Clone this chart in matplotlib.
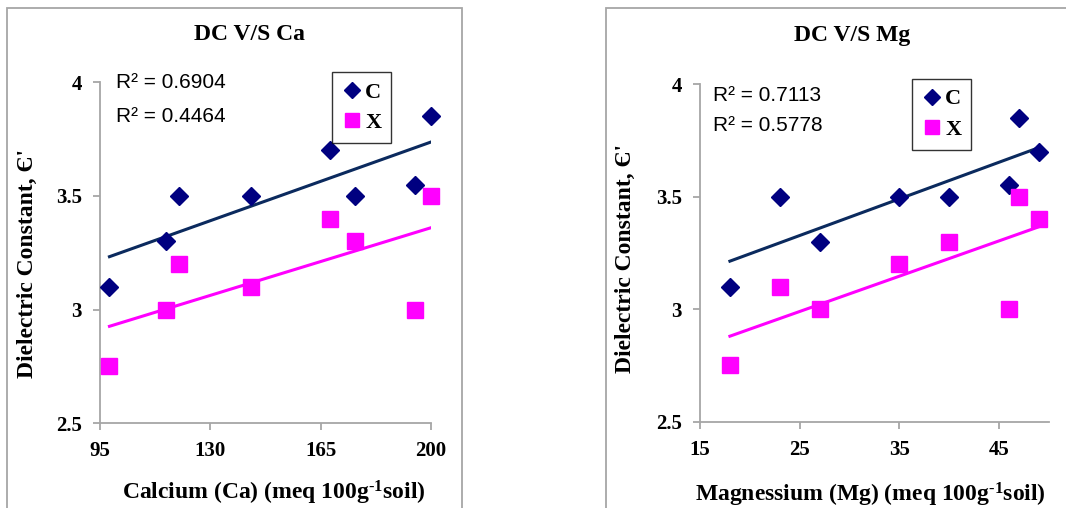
import numpy as np
import matplotlib
matplotlib.use("Agg")
import matplotlib.pyplot as plt
from matplotlib.patches import Rectangle
from matplotlib.lines import Line2D

plt.rcParams["font.family"] = ["Liberation Serif", "DejaVu Serif"]
plt.rcParams["mathtext.fontset"] = "custom"
plt.rcParams["mathtext.rm"] = "Liberation Serif:bold"
plt.rcParams["mathtext.it"] = "Liberation Serif:bold"
plt.rcParams["mathtext.bf"] = "Liberation Serif:bold"

# Calcium panel
ca = [98, 116, 120, 143, 168, 176, 195, 200]
ca_c = [3.1, 3.3, 3.5, 3.5, 3.7, 3.5, 3.55, 3.85]
ca_x = [2.75, 3.0, 3.2, 3.1, 3.4, 3.3, 3.0, 3.5]
ca_r2 = ["R² = 0.6904", "R² = 0.4464"]
ca_ticks = [95, 130, 165, 200]

# Magnesium panel
mg = [18, 23, 27, 35, 40, 46, 47, 49]
mg_c = [3.1, 3.5, 3.3, 3.5, 3.5, 3.55, 3.85, 3.7]
mg_x = [2.75, 3.1, 3.0, 3.2, 3.3, 3.0, 3.5, 3.4]
mg_r2 = ["R² = 0.7113", "R² = 0.5778"]
mg_ticks = [15, 25, 35, 45]

y_ticks = [2.5, 3, 3.5, 4]

NAVY = "#000080"
TREND = "#0B2A5E"
PINK = "#FF00FF"
GRAY = "#A6A6A6"

W, H = 1066, 508
fig = plt.figure(figsize=(W / 100, H / 100), dpi=100)


def fx(x):
    return x / W


def fy(y):
    return 1 - y / H


# chart area frames
fig.add_artist(Rectangle((fx(7), -0.1), fx(462) - fx(7), fy(8) + 0.1,
                         transform=fig.transFigure, fill=False, ec=GRAY, lw=1.3))
fig.add_artist(Rectangle((fx(606), -0.1), 0.6, fy(8) + 0.1,
                         transform=fig.transFigure, fill=False, ec=GRAY, lw=1.3))


def panel(rect, xs, yc, yx, xlim, xticks, r2, r2_pos, leg_pos):
    ax = fig.add_axes(rect)
    for xvals, yvals, col, mk, ms in [(xs, yc, NAVY, "D", 9), (xs, yx, PINK, "s", 11)]:
        ax.plot(xvals, yvals, ls="none", marker=mk, ms=ms, color=col, mec=col, zorder=3, clip_on=False)
    # linear trendlines
    for yvals, col in [(yc, TREND), (yx, PINK)]:
        k, b = np.polyfit(xs, yvals, 1)
        xx = np.array([min(xs), max(xs)])
        ax.plot(xx, k * xx + b, color=col, lw=2.2, zorder=2)
    ax.set_xlim(*xlim)
    ax.set_ylim(2.5, 4)
    ax.set_xticks(xticks)
    ax.set_yticks(y_ticks)
    ax.set_yticklabels(["2.5", "3", "3.5", "4"])
    for s in ["top", "right"]:
        ax.spines[s].set_visible(False)
    for s in ["left", "bottom"]:
        ax.spines[s].set_color(GRAY)
        ax.spines[s].set_linewidth(1.3)
    ax.tick_params(direction="out", length=5, width=1.3, color=GRAY,
                   labelsize=15, pad=8)
    for lab in ax.get_xticklabels() + ax.get_yticklabels():
        lab.set_fontweight("bold")
    for t, yy in zip(r2, r2_pos[1]):
        ax.text(r2_pos[0], yy, t, transform=ax.transAxes, family="Liberation Sans",
                fontsize=15, va="center", ha="left")
    handles = [Line2D([], [], ls="none", marker="D", ms=8, color=NAVY),
               Line2D([], [], ls="none", marker="s", ms=10, color=PINK)]
    leg = ax.legend(handles, ["C", "X"], loc="upper left", bbox_to_anchor=leg_pos,
                    borderaxespad=0, frameon=True, fancybox=False, handlelength=0.9,
                    handletextpad=0.15, borderpad=0.45, labelspacing=0.45,
                    prop={"family": "Liberation Serif", "weight": "bold", "size": 16})
    leg.get_frame().set_edgecolor("black")
    leg.get_frame().set_linewidth(1.0)
    return ax


panel([fx(100), fy(423.3), fx(431) - fx(100), fy(82.3) - fy(423.3)],
      ca, ca_c, ca_x, (95, 200), ca_ticks, ca_r2, (0.048, [0.998, 0.901]), (0.701, 1.03))
panel([fx(700), fy(421.7), fx(1049) - fx(700), fy(84) - fy(421.7)],
      mg, mg_c, mg_x, (15, 50), mg_ticks, mg_r2, (0.037, [0.967, 0.878]), (0.607, 1.015))

tkw = dict(fontsize=17, fontweight="bold", ha="center", va="center")
fig.text(fx(249), fy(35), "DC V/S Ca", **tkw)
fig.text(fx(852), fy(35), "DC V/S Mg", **tkw)
fig.text(fx(27), fy(263), "Dielectric Constant, Є'", rotation=90, **tkw)
fig.text(fx(625), fy(258), "Dielectric Constant, Є'", rotation=90, **tkw)
fig.text(fx(274), fy(493), r"Calcium (Ca) (meq 100g$^{\text{-1}}$soil)", **tkw)
fig.text(fx(870), fy(495), r"Magnessium (Mg) (meq 100g$^{\text{-1}}$soil)", **tkw)

fig.savefig("out.png", dpi=100)
